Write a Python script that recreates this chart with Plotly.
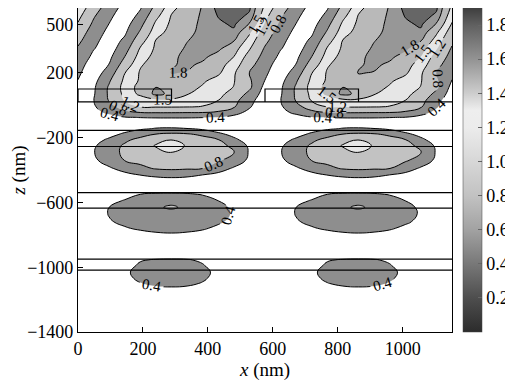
import plotly.graph_objects as go

# ---------------- data (one period of the field) -------------
period = 576                      # nm, grating period
period_u = [0, 48, 96, 144, 192, 240, 288, 336, 384, 432, 480, 528]

# region above / around the grating (top lobe)
lobe_z = [600, 550, 500, 450, 400, 350, 300, 250, 200, 150, 110, 70, 30, -10, -45, -75, -110]
lobe_vals = [
    [1.43, 0.99, 0.60, 0.26, 0.37, 0.92, 1.43, 1.63, 1.82, 2.06, 2.12, 2.03],
    [1.30, 0.84, 0.49, 0.15, 0.51, 1.11, 1.52, 1.67, 1.84, 2.01, 2.08, 1.96],
    [1.17, 0.73, 0.39, 0.24, 0.69, 1.27, 1.56, 1.71, 1.85, 1.96, 2.03, 1.78],
    [1.02, 0.62, 0.29, 0.34, 0.85, 1.39, 1.60, 1.74, 1.86, 1.95, 1.96, 1.55],
    [0.89, 0.53, 0.19, 0.47, 1.05, 1.51, 1.65, 1.79, 1.88, 1.92, 1.82, 1.38],
    [0.76, 0.42, 0.21, 0.63, 1.23, 1.55, 1.70, 1.83, 1.92, 1.85, 1.63, 1.23],
    [0.66, 0.32, 0.31, 0.80, 1.35, 1.60, 1.75, 1.86, 1.85, 1.71, 1.50, 1.07],
    [0.55, 0.22, 0.41, 0.99, 1.47, 1.63, 1.78, 1.84, 1.76, 1.61, 1.38, 0.93],
    [0.46, 0.18, 0.58, 1.19, 1.53, 1.66, 1.81, 1.79, 1.65, 1.55, 1.25, 0.79],
    [0.39, 0.28, 0.76, 1.28, 1.54, 1.64, 1.75, 1.65, 1.54, 1.39, 1.22, 0.86],
    [0.28, 0.34, 0.85, 1.33, 1.60, 1.80, 1.72, 1.60, 1.47, 1.33, 1.19, 0.88],
    [0.22, 0.36, 0.86, 1.29, 1.57, 1.87, 1.74, 1.52, 1.39, 1.28, 1.09, 0.69],
    [0.18, 0.39, 0.83, 1.23, 1.32, 1.42, 1.44, 1.35, 1.27, 1.20, 0.94, 0.52],
    [0.10, 0.35, 0.67, 0.99, 1.21, 1.22, 1.22, 1.21, 1.19, 1.01, 0.84, 0.44],
    [0.05, 0.27, 0.49, 0.69, 0.80, 0.82, 0.82, 0.81, 0.80, 0.75, 0.53, 0.30],
    [0.03, 0.12, 0.25, 0.38, 0.41, 0.42, 0.42, 0.42, 0.41, 0.39, 0.30, 0.15],
    [0.02, 0.05, 0.10, 0.15, 0.20, 0.22, 0.23, 0.22, 0.20, 0.17, 0.12, 0.05],
]

# first buried layer
layer1_z = [-145, -180, -215, -250, -290, -340, -390, -430, -470, -510]
layer1_vals = [
    [0.05, 0.10, 0.18, 0.27, 0.35, 0.42, 0.43, 0.41, 0.33, 0.25, 0.15, 0.08],
    [0.08, 0.18, 0.30, 0.46, 0.65, 0.82, 0.89, 0.85, 0.73, 0.47, 0.32, 0.21],
    [0.12, 0.28, 0.46, 0.72, 0.93, 1.12, 1.21, 1.10, 0.96, 0.83, 0.47, 0.27],
    [0.15, 0.35, 0.60, 0.86, 1.05, 1.22, 1.29, 1.18, 1.05, 0.91, 0.72, 0.33],
    [0.15, 0.38, 0.66, 0.87, 1.00, 1.13, 1.21, 1.11, 1.01, 0.91, 0.81, 0.36],
    [0.13, 0.33, 0.57, 0.81, 0.89, 0.97, 1.04, 1.00, 0.93, 0.85, 0.65, 0.32],
    [0.08, 0.19, 0.35, 0.54, 0.72, 0.83, 0.86, 0.84, 0.81, 0.58, 0.35, 0.20],
    [0.05, 0.10, 0.20, 0.30, 0.41, 0.50, 0.55, 0.50, 0.40, 0.30, 0.20, 0.10],
    [0.03, 0.05, 0.08, 0.12, 0.16, 0.19, 0.20, 0.19, 0.16, 0.12, 0.08, 0.05],
    [0.02, 0.04, 0.06, 0.09, 0.12, 0.14, 0.15, 0.14, 0.12, 0.09, 0.06, 0.03],
]

# second buried layer
layer2_z = [-550, -590, -630, -670, -720, -760, -795, -850]
layer2_vals = [
    [0.05, 0.08, 0.15, 0.25, 0.40, 0.45, 0.46, 0.44, 0.38, 0.25, 0.15, 0.08],
    [0.05, 0.12, 0.28, 0.43, 0.56, 0.66, 0.71, 0.64, 0.53, 0.40, 0.25, 0.10],
    [0.06, 0.18, 0.40, 0.53, 0.65, 0.76, 0.84, 0.74, 0.63, 0.50, 0.34, 0.16],
    [0.06, 0.20, 0.42, 0.52, 0.60, 0.67, 0.70, 0.66, 0.58, 0.50, 0.37, 0.17],
    [0.05, 0.16, 0.37, 0.47, 0.54, 0.58, 0.60, 0.57, 0.52, 0.45, 0.32, 0.14],
    [0.03, 0.10, 0.22, 0.37, 0.45, 0.49, 0.50, 0.48, 0.44, 0.33, 0.20, 0.08],
    [0.02, 0.05, 0.12, 0.22, 0.30, 0.36, 0.38, 0.36, 0.30, 0.20, 0.10, 0.04],
    [0.01, 0.02, 0.04, 0.07, 0.10, 0.12, 0.13, 0.12, 0.10, 0.07, 0.04, 0.02],
]

# third buried layer and bottom
layer3_z = [-900, -955, -990, -1030, -1070, -1100, -1130, -1180, -1400]
layer3_vals = [
    [0.00, 0.01, 0.03, 0.06, 0.10, 0.13, 0.14, 0.13, 0.10, 0.06, 0.02, 0.01],
    [0.01, 0.03, 0.07, 0.20, 0.38, 0.42, 0.43, 0.42, 0.36, 0.20, 0.07, 0.02],
    [0.01, 0.04, 0.12, 0.30, 0.44, 0.50, 0.52, 0.49, 0.42, 0.27, 0.10, 0.03],
    [0.01, 0.05, 0.15, 0.36, 0.47, 0.53, 0.55, 0.52, 0.46, 0.34, 0.13, 0.03],
    [0.01, 0.04, 0.13, 0.33, 0.45, 0.50, 0.52, 0.50, 0.44, 0.30, 0.10, 0.02],
    [0.01, 0.03, 0.10, 0.26, 0.39, 0.46, 0.48, 0.46, 0.38, 0.24, 0.08, 0.02],
    [0.01, 0.02, 0.06, 0.16, 0.28, 0.35, 0.37, 0.35, 0.28, 0.16, 0.05, 0.01],
    [0.00, 0.01, 0.02, 0.05, 0.09, 0.13, 0.15, 0.13, 0.09, 0.05, 0.02, 0.00],
    [0.00, 0.00, 0.00, 0.00, 0.00, 0.00, 0.00, 0.00, 0.00, 0.00, 0.00, 0.00],
]

# contour levels and band colours
levels = [0.4, 0.8, 1.2, 1.5, 1.8, 2.0]
level_labels = ['.1f', '.1f', '.1f', '.1f', '.1f', '.0f']
fill_colors = ['#8e8e8e', '#c2c2c2', '#e6e6e6', '#b9b9b9', '#979797', '#666666']

# structure outline (nm)
ridge_starts = [0, 576]
ridge_width = 288
ridge_top = 100
base_z = 20
layer_lines = [-155, -255, -540, -635, -950, -1018]

# colour bar map
cbar_vals = [0.0, 0.2, 0.4, 0.6, 0.8, 1.0, 1.2, 1.3, 1.4, 1.6, 1.8, 1.9]
cbar_cols = ['#2c2c2c', '#4e4e4e', '#787878', '#a2a2a2', '#c2c2c2', '#d7d7d7',
             '#ececec', '#eeeeee', '#cdcdcd', '#939393', '#606060', '#3e3e3e']
cbar_ticks = [0.2, 0.4, 0.6, 0.8, 1.0, 1.2, 1.4, 1.6, 1.8]

x_ticks = [0, 200, 400, 600, 800, 1000]
y_ticks = [-1400, -1000, -600, -200, 200, 500]

# ---------------- build the grid (tile the period twice) -----------------------------
all_z = lobe_z + layer1_z + layer2_z + layer3_z
all_rows = lobe_vals + layer1_vals + layer2_vals + layer3_vals
x = period_u + [u + period for u in period_u] + [2 * period]
pairs = sorted(zip(all_z, all_rows), key=lambda p: p[0])
y = [p[0] for p in pairs]
z = [p[1] + p[1] + [p[1][0]] for p in pairs]

FONT = 'Liberation Serif'
fig = go.Figure()

# constraint contours shade the region that does NOT satisfy the constraint,
# so "< L" shades where the field is above L
for L, c in zip(levels, fill_colors):
    fig.add_trace(go.Contour(
        x=x, y=y, z=z,
        contours=dict(type='constraint', operation='<', value=L),
        fillcolor=c, line=dict(width=0, smoothing=1.3),
        showscale=False, hoverinfo='skip'))

# one drawn level per trace; the extra (empty) levels above the data range only
# make plotly space the in-line labels more densely
N_EXTRA = 40
for L, fmt in zip(levels, level_labels):
    fig.add_trace(go.Contour(
        x=x, y=y, z=z, autocontour=False,
        contours=dict(start=L, end=L + 10 * N_EXTRA, size=10, coloring='none',
                      showlabels=True,
                      labelfont=dict(family=FONT, size=15, color='black'),
                      labelformat=fmt),
        line=dict(color='black', width=1, smoothing=1.3),
        showscale=False, hoverinfo='skip'))

# structure lines
line_style = dict(color='black', width=1.2)
fig.add_trace(go.Scatter(x=[0, 2 * period], y=[base_z, base_z], mode='lines',
                         line=line_style, hoverinfo='skip', showlegend=False))
for zl in layer_lines:
    fig.add_trace(go.Scatter(x=[0, 2 * period], y=[zl, zl], mode='lines',
                             line=line_style, hoverinfo='skip', showlegend=False))
for xs in ridge_starts:
    fig.add_trace(go.Scatter(x=[xs, xs, xs + ridge_width, xs + ridge_width],
                             y=[base_z, ridge_top, ridge_top, base_z], mode='lines',
                             line=line_style, hoverinfo='skip', showlegend=False))

# colour bar
cmin, cmax = cbar_vals[0], cbar_vals[-1]
cscale = [[(v - cmin) / (cmax - cmin), c] for v, c in zip(cbar_vals, cbar_cols)]
fig.add_trace(go.Scatter(
    x=[x[0]], y=[y[0]], mode='markers', hoverinfo='skip', showlegend=False,
    marker=dict(size=0.1, opacity=0, color=[cmin], cmin=cmin, cmax=cmax,
                colorscale=cscale, showscale=True,
                colorbar=dict(x=1.027, xanchor='left', xpad=0, y=0.5, yanchor='middle',
                              len=1.0, lenmode='fraction', thickness=19, ypad=0,
                              outlinewidth=0.5, outlinecolor='#444',
                              tickvals=cbar_ticks, tickformat='.1f',
                              ticks='inside', ticklen=4, tickcolor='#666',
                              tickfont=dict(family=FONT, size=18, color='black')))))

axis_common = dict(showgrid=False, zeroline=False, showline=True, linecolor='black',
                   linewidth=1.2, mirror=True, ticks='inside', ticklen=5,
                   tickcolor='black', automargin=False,
                   tickfont=dict(family=FONT, size=18, color='black'))
fig.update_xaxes(range=[0, 2 * period], tickvals=x_ticks,
                 title=dict(text='<i>x</i> (nm)', font=dict(family=FONT, size=19, color='black'),
                            standoff=3),
                 **axis_common)
fig.update_yaxes(range=[-1400, 600], tickvals=y_ticks,
                 title=dict(text='<i>z</i> (nm)', font=dict(family=FONT, size=19, color='black'),
                            standoff=0),
                 **axis_common)

# the page body adds an 8 px offset, so the figure is 8 px smaller than the window
fig.update_layout(width=505, height=375, margin=dict(l=70, r=60, t=0, b=51),
                  plot_bgcolor='white', paper_bgcolor='white', showlegend=False)

fig.write_html('out.html')
